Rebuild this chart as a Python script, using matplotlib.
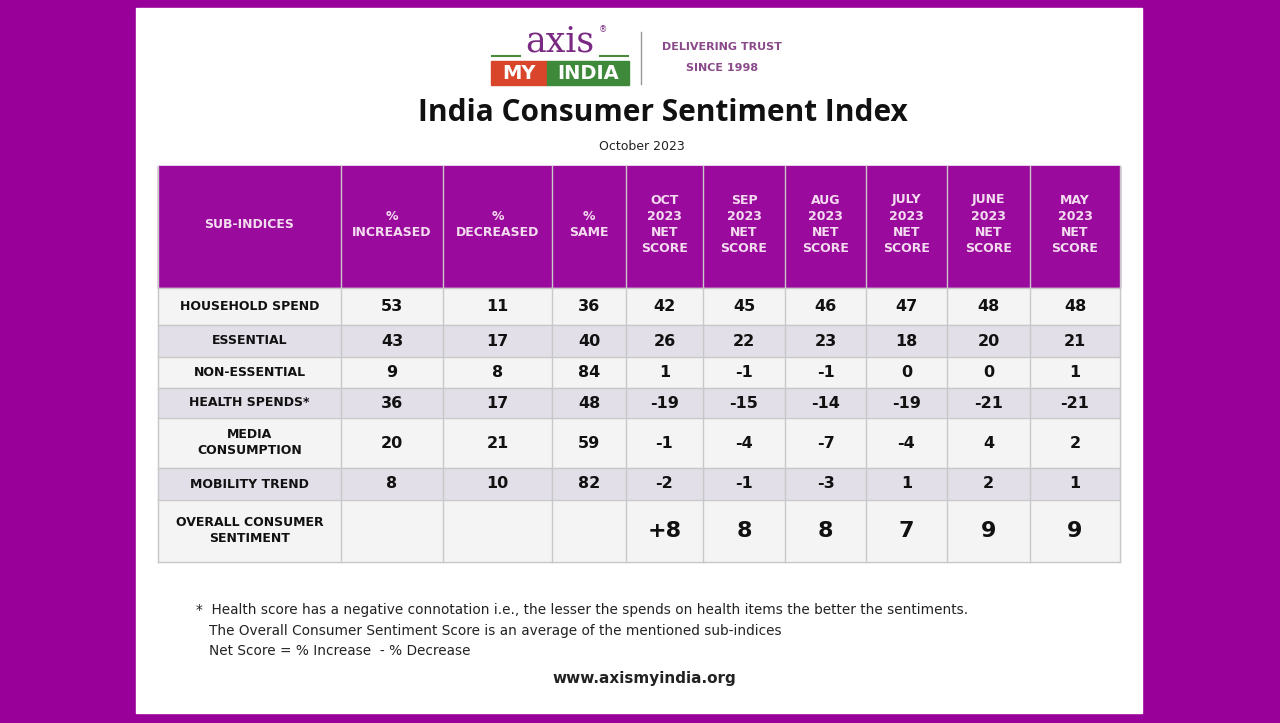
import matplotlib
matplotlib.use("Agg")
import matplotlib.pyplot as plt
from matplotlib.patches import Rectangle

columns = ["SUB-INDICES", "%\nINCREASED", "%\nDECREASED", "%\nSAME",
           "OCT\n2023\nNET\nSCORE", "SEP\n2023\nNET\nSCORE", "AUG\n2023\nNET\nSCORE",
           "JULY\n2023\nNET\nSCORE", "JUNE\n2023\nNET\nSCORE", "MAY\n2023\nNET\nSCORE"]
sub_indices = ["HOUSEHOLD SPEND", "ESSENTIAL", "NON-ESSENTIAL", "HEALTH SPENDS*",
               "MEDIA\nCONSUMPTION", "MOBILITY TREND", "OVERALL CONSUMER\nSENTIMENT"]
pct_increased = ["53", "43", "9", "36", "20", "8", ""]
pct_decreased = ["11", "17", "8", "17", "21", "10", ""]
pct_same = ["36", "40", "84", "48", "59", "82", ""]
oct_2023 = ["42", "26", "1", "-19", "-1", "-2", "+8"]
sep_2023 = ["45", "22", "-1", "-15", "-4", "-1", "8"]
aug_2023 = ["46", "23", "-1", "-14", "-7", "-3", "8"]
jul_2023 = ["47", "18", "0", "-19", "-4", "1", "7"]
jun_2023 = ["48", "20", "0", "-21", "4", "2", "9"]
may_2023 = ["48", "21", "1", "-21", "2", "1", "9"]

data_cols = [sub_indices, pct_increased, pct_decreased, pct_same,
             oct_2023, sep_2023, aug_2023, jul_2023, jun_2023, may_2023]

xb = [158, 341, 443, 552, 626, 703, 785, 866, 947, 1030, 1120]
yb = [166, 288, 325, 357, 388, 418, 468, 500, 562]

PURPLE = "#9a0a9c"
fig = plt.figure(figsize=(12.8, 7.23), dpi=100)
fig.patch.set_facecolor("#990099")
ax = fig.add_axes([0, 0, 1, 1])
ax.set_xlim(0, 1280); ax.set_ylim(723, 0); ax.axis("off")
ax.add_patch(Rectangle((136, 8), 1006, 705, color="white"))

# logo
ax.text(560, 42, "axis", fontsize=25, family="DejaVu Serif", color="#7a2a82", ha="center", va="center")
ax.text(603, 30, "®", fontsize=6, color="#7a2a82", ha="center", va="center")
ax.plot([492, 520], [56, 56], color="#4a8a3a", lw=1.5)
ax.plot([600, 628], [56, 56], color="#4a8a3a", lw=1.5)
ax.add_patch(Rectangle((491, 61), 56, 24, color="#d8452a"))
ax.add_patch(Rectangle((547, 61), 82, 24, color="#3f8a3a"))
ax.text(519, 73.5, "MY", fontsize=14, weight="bold", color="white", ha="center", va="center")
ax.text(588, 73.5, "INDIA", fontsize=14, weight="bold", color="white", ha="center", va="center")
ax.plot([641, 641], [32, 84], color="#999999", lw=1)
ax.text(722, 47, "DELIVERING TRUST", fontsize=8, weight="bold", color="#8a4a8a", ha="center", va="center")
ax.text(722, 68, "SINCE 1998", fontsize=8, weight="bold", color="#8a4a8a", ha="center", va="center")

ax.text(663, 113, "India Consumer Sentiment Index", fontsize=21.5, weight="bold", family="Open Sans",
        color="#111111", ha="center", va="center")
ax.text(642, 147, "October 2023", fontsize=9, color="#222222", ha="center", va="center")

# table
ax.add_patch(Rectangle((xb[0], yb[0]), xb[-1]-xb[0], yb[1]-yb[0], color=PURPLE))
for i, c in enumerate(columns):
    ax.text((xb[i]+xb[i+1])/2, (yb[0]+yb[1])/2 - 3, c, fontsize=9, weight="bold",
            color="#f4dcf0", ha="center", va="center", linespacing=1.3)
for r in range(len(sub_indices)):
    y0, y1 = yb[r+1], yb[r+2]
    fc = "#f4f4f4" if r % 2 == 0 else "#e2dfe8"
    ax.add_patch(Rectangle((xb[0], y0), xb[-1]-xb[0], y1-y0, color=fc))
    last = r == len(sub_indices) - 1
    for i, col in enumerate(data_cols):
        fs = 9 if i == 0 else (16 if last else 11.5)
        ax.text((xb[i]+xb[i+1])/2, (y0+y1)/2, col[r], fontsize=fs, weight="bold",
                color="#111111", ha="center", va="center", linespacing=1.3)
for x in xb:
    ax.plot([x, x], [yb[0], yb[-1]], color="#c8c8c8", lw=1)
for y in yb[1:]:
    ax.plot([xb[0], xb[-1]], [y, y], color="#c8c8c8", lw=1)

ax.text(196, 610, "*  Health score has a negative connotation i.e., the lesser the spends on health items the better the sentiments.",
        fontsize=9.8, color="#222222", va="center")
ax.text(209, 631, "The Overall Consumer Sentiment Score is an average of the mentioned sub-indices",
        fontsize=9.8, color="#222222", va="center")
ax.text(209, 651, "Net Score = % Increase  - % Decrease", fontsize=9.8, color="#222222", va="center")
ax.text(644, 679, "www.axismyindia.org", fontsize=11, weight="bold", color="#222222", ha="center", va="center")

fig.savefig("out.png", dpi=100, facecolor=fig.get_facecolor())
